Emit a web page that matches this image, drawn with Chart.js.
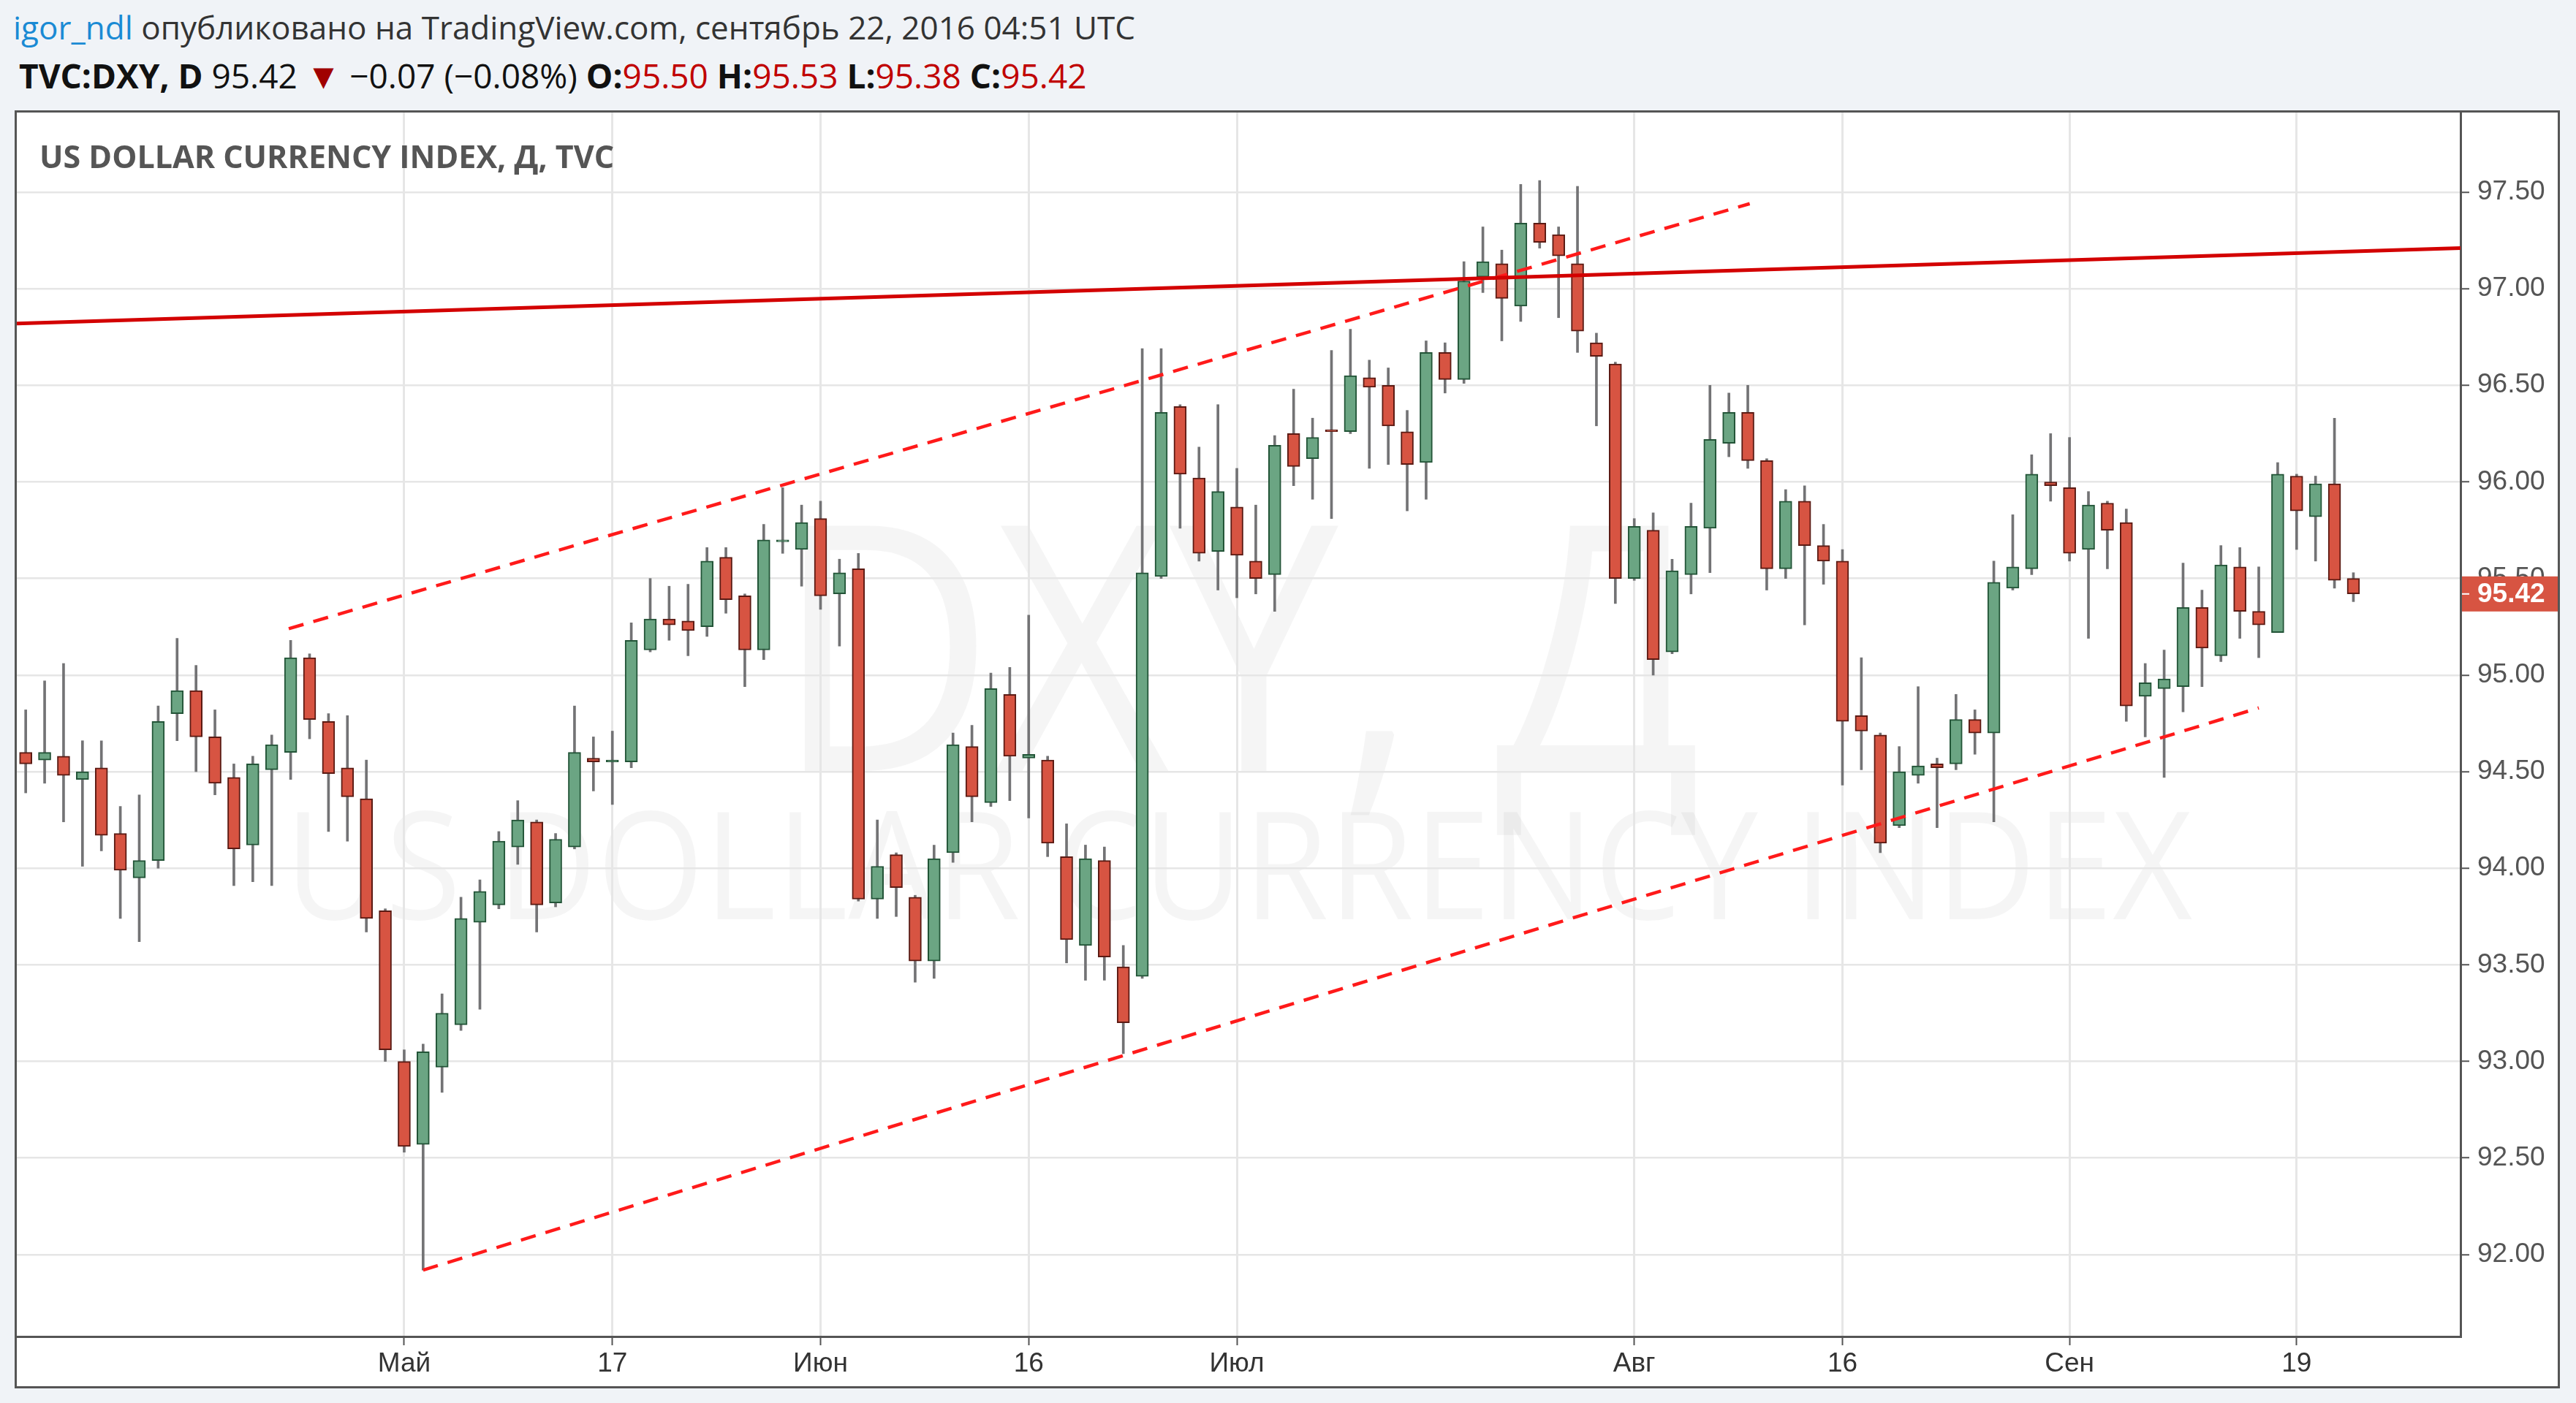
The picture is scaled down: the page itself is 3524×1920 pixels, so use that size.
<!DOCTYPE html>
<html>
<head>
<meta charset="utf-8">
<script src="https://cdn.jsdelivr.net/npm/chart.js@4.4.0/dist/chart.umd.min.js"></script>
<style>
	body {
		margin: 0;
		width: 3524px;
		height: 1920px;
		overflow: hidden;
		background: #f0f3f7;
		font-family: "Open Sans", sans-serif;
		position: relative;
	}
	.head {
		position: absolute;
		left: 18px;
		line-height: 1;
		white-space: nowrap;
		color: #333;
	}
	#head1 { top: 15px; font-size: 44px; }
	#head2 { top: 79px; left: 26px; font-size: 46px; color: #111; }
	#head1 .user { color: #1a8ad4; }
	#head2 b { font-weight: 700; }
	#head2 .dn { color: #a00000; font-size: 48px; }
	#head2 .v { color: #c00000; }
	#frame {
		position: absolute;
		left: 20px;
		top: 151px;
		width: 3482px;
		height: 1749px;
		border: 3px solid #555;
		box-sizing: border-box;
		background: #fff;
	}
	.wm {
		position: absolute;
		left: 0;
		width: 3343px;
		text-align: center;
		line-height: 1;
		color: rgba(0, 0, 0, 0.04);
		white-space: nowrap;
		transform: scaleX(0.88);
	}
	#wm1 { top: 484px; font-size: 470px; }
	#wm2 { top: 922px; font-size: 205px; transform: scaleX(0.92); }
	#chart { position: absolute; left: 0; top: 0; }
	#title {
		position: absolute;
		left: 31px;
		top: 38px;
		font-size: 43px;
		font-weight: 700;
		line-height: 1;
		color: #555;
		white-space: nowrap;
	}
</style>
</head>
<body>
<div id="head1" class="head"><span class="user">igor_ndl</span> опубликовано на TradingView.com, сентябрь 22, 2016 04:51 UTC</div>
<div id="head2" class="head"><b>TVC:DXY, D</b> 95.42 <span class="dn">▼</span> −0.07 (−0.08%) <b>O:</b><span class="v">95.50</span> <b>H:</b><span class="v">95.53</span> <b>L:</b><span class="v">95.38</span> <b>C:</b><span class="v">95.42</span></div>
<div id="frame">
	<div id="wm1" class="wm">DXY, Д</div>
	<div id="wm2" class="wm">US DOLLAR CURRENCY INDEX</div>
	<canvas id="chart" width="3476" height="1743"></canvas>
	<div id="title">US DOLLAR CURRENCY INDEX, Д, TVC</div>
</div>
<script>
// daily candles, 4 Apr 2016 .. 22 Sep 2016 (index 0 = 4 Apr)
const opens = [
	94.60, 94.56, 94.58, 94.46, 94.52, 94.18, 93.95, 94.04, 94.80, 94.92,
	94.68, 94.47, 94.12, 94.51, 94.60, 95.09, 94.76, 94.52, 94.36, 93.78,
	93.00, 92.57, 92.97, 93.19, 93.72, 93.81, 94.11, 94.24, 93.82, 94.11,
	94.57, 94.55, 94.55, 95.13, 95.29, 95.28, 95.25, 95.61, 95.41, 95.13,
	95.69, 95.65, 95.81, 95.42, 95.55, 93.84, 94.07, 93.85, 93.52, 94.08,
	94.63, 94.34, 94.90, 94.57, 94.56, 94.06, 93.60, 94.04, 93.49, 93.44,
	95.51, 96.39, 96.02, 95.64, 95.87, 95.59, 95.52, 96.25, 96.12, 96.27,
	96.26, 96.54, 96.50, 96.26, 96.10, 96.67, 96.53, 97.06, 97.13, 96.91,
	97.34, 97.28, 97.13, 96.72, 96.61, 95.50, 95.75, 95.12, 95.52, 95.76,
	96.20, 96.36, 96.11, 95.55, 95.90, 95.67, 95.59, 94.79, 94.69, 94.22,
	94.48, 94.54, 94.54, 94.77, 94.70, 95.45, 95.55, 96.00, 95.97, 95.65,
	95.89, 95.79, 94.89, 94.93, 94.94, 95.35, 95.10, 95.56, 95.33, 95.22,
	96.03, 95.82, 95.99, 95.50
];
const highs = [
	94.82, 94.97, 95.06, 94.66, 94.66, 94.32, 94.38, 94.84, 95.19, 95.05,
	94.82, 94.54, 94.58, 94.69, 95.18, 95.11, 94.80, 94.79, 94.56, 93.79,
	93.06, 93.09, 93.35, 93.85, 93.94, 94.19, 94.35, 94.25, 94.18, 94.84,
	94.68, 94.71, 95.27, 95.50, 95.46, 95.47, 95.66, 95.66, 95.42, 95.78,
	95.97, 95.88, 95.90, 95.60, 95.63, 94.25, 94.08, 93.86, 94.12, 94.70,
	94.74, 95.01, 95.04, 95.31, 94.58, 94.23, 94.12, 94.11, 93.60, 96.69,
	96.69, 96.40, 96.18, 96.40, 96.07, 95.88, 96.24, 96.48, 96.33, 96.68,
	96.79, 96.63, 96.59, 96.37, 96.73, 96.72, 97.14, 97.32, 97.20, 97.54,
	97.56, 97.32, 97.53, 96.77, 96.62, 95.81, 95.84, 95.60, 95.89, 96.50,
	96.46, 96.50, 96.12, 95.96, 95.98, 95.78, 95.65, 95.09, 94.70, 94.63,
	94.94, 94.57, 94.90, 94.82, 95.59, 95.83, 96.14, 96.25, 96.23, 95.95,
	95.90, 95.86, 95.06, 95.13, 95.58, 95.44, 95.67, 95.66, 95.56, 96.10,
	96.04, 96.03, 96.33, 95.53
];
const lows = [
	94.39, 94.44, 94.24, 94.01, 94.09, 93.74, 93.62, 94.00, 94.66, 94.50,
	94.38, 93.91, 93.93, 93.91, 94.46, 94.67, 94.19, 94.14, 93.67, 93.00,
	92.53, 91.92, 92.84, 93.16, 93.27, 93.79, 94.02, 93.67, 93.80, 94.10,
	94.40, 94.33, 94.52, 95.12, 95.18, 95.10, 95.20, 95.32, 94.94, 95.08,
	95.63, 95.46, 95.34, 95.15, 93.83, 93.74, 93.75, 93.41, 93.43, 94.03,
	94.24, 94.32, 94.35, 94.26, 94.06, 93.51, 93.42, 93.42, 93.04, 93.43,
	95.50, 95.76, 95.59, 95.44, 95.40, 95.42, 95.33, 95.98, 95.91, 95.81,
	96.25, 96.07, 96.09, 95.85, 95.91, 96.46, 96.51, 96.98, 96.73, 96.83,
	97.21, 96.85, 96.67, 96.29, 95.37, 95.49, 95.00, 95.11, 95.42, 95.53,
	96.13, 96.07, 95.44, 95.50, 95.26, 95.47, 94.43, 94.51, 94.08, 94.21,
	94.44, 94.21, 94.51, 94.59, 94.24, 95.44, 95.52, 95.90, 95.59, 95.19,
	95.55, 94.76, 94.68, 94.47, 94.81, 94.94, 95.07, 95.19, 95.09, 95.22,
	95.65, 95.59, 95.45, 95.38
];
const closes = [
	94.54, 94.60, 94.48, 94.50, 94.17, 93.99, 94.04, 94.76, 94.92, 94.68,
	94.44, 94.10, 94.54, 94.64, 95.09, 94.77, 94.49, 94.37, 93.74, 93.06,
	92.56, 93.05, 93.25, 93.74, 93.88, 94.14, 94.25, 93.81, 94.15, 94.60,
	94.55, 94.56, 95.18, 95.29, 95.26, 95.23, 95.59, 95.39, 95.13, 95.70,
	95.70, 95.79, 95.41, 95.53, 93.84, 94.01, 93.90, 93.52, 94.05, 94.64,
	94.37, 94.93, 94.58, 94.59, 94.13, 93.63, 94.05, 93.54, 93.20, 95.53,
	96.36, 96.04, 95.63, 95.95, 95.62, 95.50, 96.19, 96.08, 96.23, 96.26,
	96.55, 96.49, 96.29, 96.09, 96.67, 96.53, 97.04, 97.14, 96.95, 97.34,
	97.24, 97.17, 96.78, 96.65, 95.50, 95.77, 95.08, 95.54, 95.77, 96.22,
	96.36, 96.11, 95.55, 95.90, 95.67, 95.59, 94.76, 94.71, 94.13, 94.50,
	94.53, 94.52, 94.77, 94.70, 95.48, 95.56, 96.04, 95.98, 95.63, 95.88,
	95.75, 94.84, 94.96, 94.98, 95.35, 95.14, 95.57, 95.33, 95.26, 96.04,
	95.85, 95.99, 95.49, 95.42
];

// time axis labels: first day of month and mid-month marks
const dateTickIndex = [20, 31, 42, 53, 64, 85, 96, 108, 120];
const dateTickLabels = ["Май", "17", "Июн", "16", "Июл", "Авг", "16", "Сен", "19"];
const priceTicks = [92.0, 92.5, 93.0, 93.5, 94.0, 94.5, 95.0, 95.5, 96.0, 96.5, 97.0, 97.5];

// drawn lines: horizontal resistance and the rising channel
const resistanceX = [-0.47, 128.66];
const resistanceY = [96.82, 97.21];
const channelTopX = [13.9, 91.1];
const channelTopY = [95.24, 97.44];
const channelBottomX = [21, 118];
const channelBottomY = [91.92, 94.83];

const upFill = "#6ba583";
const upBorder = "#225437";
const downFill = "#d75442";
const downBorder = "#5b1a13";

const ctx = document.getElementById("chart");
const days = opens.map((o, i) => i);
const isUp = days.map((i) => closes[i] >= opens[i]);

function linePoints(xs, ys) {
	return xs.map((x, i) => ({ x: x, y: ys[i] }));
}

const lastPriceTag = {
	id: "lastPriceTag",
	afterDraw(chart) {
		const { ctx, scales, chartArea } = chart;
		const last = closes[closes.length - 1];
		const py = scales.y.getPixelForValue(last);
		ctx.save();
		ctx.fillStyle = downFill;
		ctx.fillRect(chartArea.right + 2, py - 24, chart.width - chartArea.right - 2, 48);
		ctx.fillStyle = "#fff";
		ctx.fillRect(chartArea.right + 2, py - 1, 10, 2);
		ctx.font = "bold 37px 'Liberation Sans'";
		ctx.textBaseline = "middle";
		ctx.fillText(last.toFixed(2), chartArea.right + 23, py + 1);
		ctx.restore();
	},
};

new Chart(ctx, {
	type: "bar",
	data: {
		datasets: [
			{
				type: "line",
				data: linePoints(resistanceX, resistanceY),
				borderColor: "#d30000",
				borderWidth: 5,
				pointRadius: 0,
				order: 0,
			},
			{
				type: "line",
				data: linePoints(channelTopX, channelTopY),
				borderColor: "#ff1a1a",
				borderWidth: 4.5,
				borderDash: [21, 14],
				pointRadius: 0,
				order: 0,
			},
			{
				type: "line",
				data: linePoints(channelBottomX, channelBottomY),
				borderColor: "#ff1a1a",
				borderWidth: 4.5,
				borderDash: [21, 14],
				pointRadius: 0,
				order: 0,
			},
			{
				data: days.map((i) => ({ x: i, y: [opens[i], closes[i]] })),
				backgroundColor: isUp.map((up) => (up ? upFill : downFill)),
				borderColor: isUp.map((up) => (up ? upBorder : downBorder)),
				borderWidth: 2,
				borderSkipped: false,
				barThickness: 17,
				grouped: false,
				order: 1,
			},
			{
				data: days.map((i) => ({ x: i, y: [lows[i], highs[i]] })),
				backgroundColor: "#737375",
				barThickness: 3,
				grouped: false,
				order: 2,
			},
		],
	},
	options: {
		responsive: false,
		animation: false,
		layout: { padding: 0 },
		plugins: {
			legend: { display: false },
			tooltip: { enabled: false },
		},
		scales: {
			x: {
				type: "linear",
				min: -0.47,
				max: 128.66,
				offset: false,
				afterBuildTicks: (scale) => {
					scale.ticks = dateTickIndex.map((v) => ({ value: v }));
				},
				afterFit: (scale) => {
					scale.height = 68;
					scale.paddingLeft = 0;
					scale.paddingRight = 0;
				},
				grid: {
					offset: false,
					color: "#e6e6e6",
					lineWidth: 3,
					tickLength: 12,
					tickColor: "#555",
					tickWidth: 2,
				},
				border: { color: "#555", width: 3 },
				ticks: {
					autoSkip: false,
					maxRotation: 0,
					padding: 4,
					color: "#333",
					font: { family: "Liberation Sans", size: 37 },
					callback: (value, index) => dateTickLabels[index],
				},
			},
			y: {
				position: "right",
				min: 91.576,
				max: 97.912,
				afterBuildTicks: (scale) => {
					scale.ticks = priceTicks.map((v) => ({ value: v }));
				},
				afterFit: (scale) => {
					scale.width = 133;
					scale.paddingTop = 0;
					scale.paddingBottom = 0;
				},
				grid: { color: "#e6e6e6", lineWidth: 2.5, tickLength: 12, tickColor: "#555", tickWidth: 2 },
				border: { color: "#555", width: 3 },
				ticks: {
					padding: 11,
					color: "#555",
					font: { family: "Liberation Sans", size: 37 },
					callback: (value) => value.toFixed(2),
				},
			},
		},
	},
	plugins: [lastPriceTag],
});
</script>
</body>
</html>
